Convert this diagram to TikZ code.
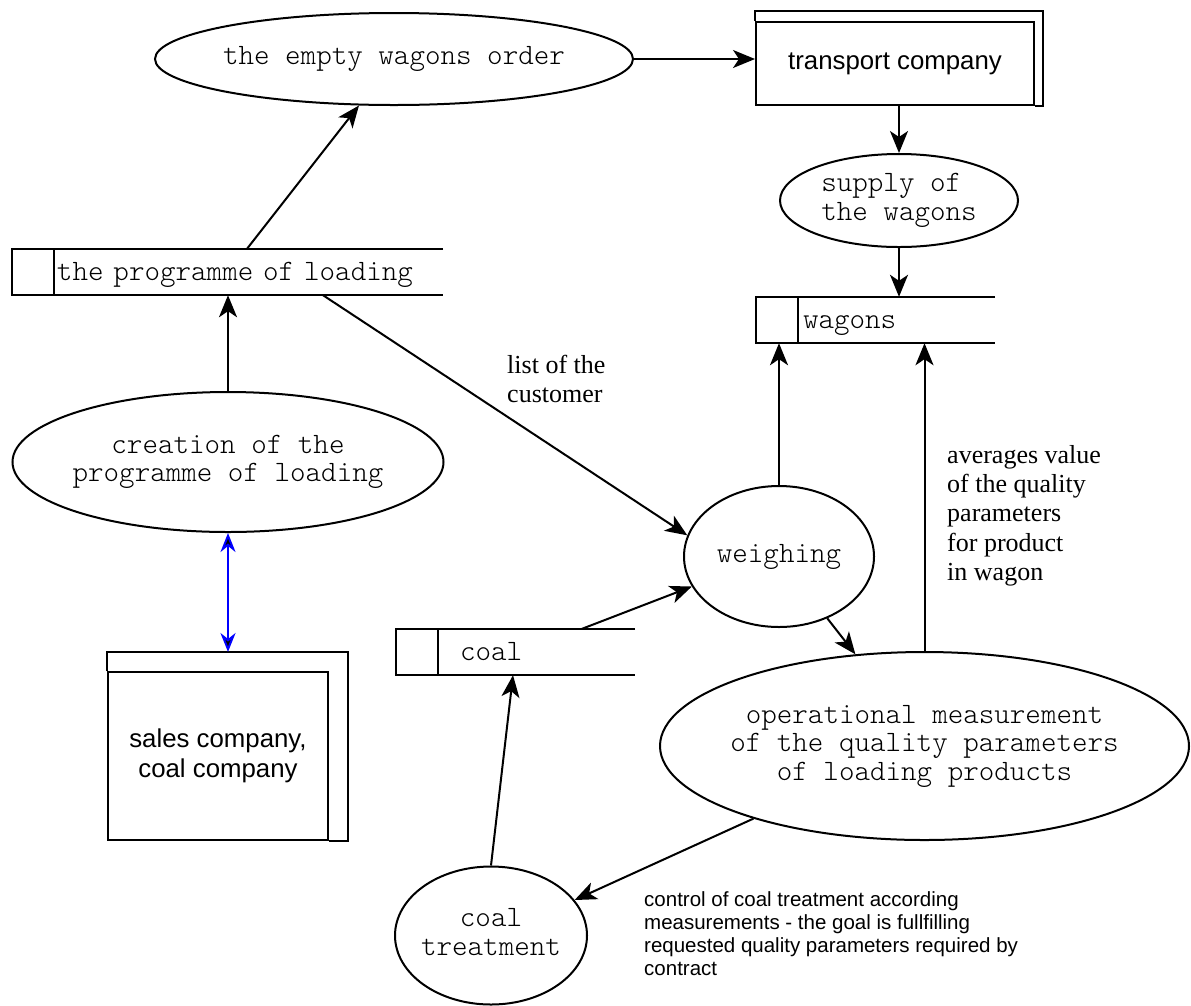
\documentclass[tikz,border=0pt]{standalone}
\usepackage{fontspec}
\setmainfont{Liberation Serif}
\newfontfamily\monof{Latin Modern Mono Light}
\newfontfamily\sansf{Liberation Sans}
\usetikzlibrary{shapes.geometric,arrows.meta}
\newcommand\ztext[1]{\makebox[0pt]{\begin{tabular}{@{}c@{}}#1\end{tabular}}}
\newcommand\zleft[1]{\makebox[0pt]{\begin{tabular}{@{}l@{}}#1\end{tabular}}}
\tikzset{
  proc/.style={ellipse, draw, line width=2pt, inner sep=0pt, font=\monof\fontsize{29.6}{28.5}\selectfont},
  ent/.style={rectangle, draw, line width=2pt, inner sep=0pt, align=center, font=\sansf\fontsize{25.8}{30}\selectfont},
  store/.style={rectangle, inner sep=0pt, minimum height=46pt, text height=16pt, text depth=0pt, align=left, font=\monof\fontsize{29.6}{28.5}\selectfont},
  storeline/.style={line width=2pt},
  tipA/.style={-{Stealth[length=22pt,width=18pt,inset=6pt]}},
  flow/.style={line width=2pt, tipA},
  lbl/.style={inner sep=0pt, anchor=west, align=left, font=\fontsize{26}{29.3}\selectfont},
  note/.style={inner sep=0pt, anchor=west, align=left, font=\sansf\fontsize{20.5}{23}\selectfont},
}
\begin{document}
\begin{tikzpicture}[x=1pt,y=-1pt]
\path[use as bounding box, fill=white] (0,0) rectangle (1191,1005);

% processes
\node[proc, minimum width=478pt, minimum height=92pt] (empty) at (394,59) {\ztext{the empty wagons order}};
\node[proc, minimum width=238pt, minimum height=93pt] (supply) at (899,200.5) {\zleft{supply of\\the wagons}};
\node[proc, minimum width=431pt, minimum height=140pt] (creation) at (228,462) {\ztext{creation of the\\programme of loading}};
\node[proc, minimum width=190pt, minimum height=141pt] (weighing) at (779,556.5) {\ztext{weighing}};
\node[proc, minimum width=529pt, minimum height=188pt] (operational) at (924.5,746) {\ztext{operational measurement\\of the quality parameters\\of loading products}};
\node[proc, minimum width=192pt, minimum height=138pt] (coaltreat) at (491,935.5) {\ztext{coal\\treatment}};

% external entities
\node[ent, minimum width=278pt, minimum height=83pt] (transport) at (895,63.5) {transport company};
\draw[line width=2pt] (transport.north west) -- ([yshift=10pt]transport.north west) -| ([xshift=8pt]transport.south east) -- (transport.south east);
\node[ent, minimum width=220pt, minimum height=168pt] (sales) at (218,756) {sales company,\\coal company};
\draw[line width=2pt] (sales.north west) -- ([yshift=19pt]sales.north west) -| ([xshift=19pt]sales.south east) -- (sales.south east);
\coordinate (salestop) at ([yshift=19pt]sales.north);

% data stores
\node[store, text width=431pt] (prog) at (227.5,272) {\hspace*{45pt}the programme of loading};
\draw[storeline] (prog.north east) -- (prog.north west) -- (prog.south west) -- (prog.south east);
\draw[storeline] ([xshift=42pt]prog.north west) -- ([xshift=42pt]prog.south west);

\node[store, text width=239pt] (wagons) at (875.5,320) {\hspace*{47pt}wagons};
\draw[storeline] (wagons.north east) -- (wagons.north west) -- (wagons.south west) -- (wagons.south east);
\draw[storeline] ([xshift=42pt]wagons.north west) -- ([xshift=42pt]wagons.south west);

\node[store, text width=239pt] (coal) at (515.5,652) {\hspace*{64pt}coal};
\draw[storeline] (coal.north east) -- (coal.north west) -- (coal.south west) -- (coal.south east);
\draw[storeline] ([xshift=42pt]coal.north west) -- ([xshift=42pt]coal.south west);

% flows
\draw[flow] ([xshift=19.5pt]prog.north) -- (empty.-127.5);
\draw[flow] (empty.east) -- (empty.east -| transport.west);
\draw[flow] (supply.north |- transport.south) -- (supply.north);
\draw[flow] (supply.south) -- (supply.south |- wagons.north);
\draw[flow] (creation.north) -- (creation.north |- prog.south);
\draw[blue, line width=2pt, {Stealth[length=19pt,width=15pt,inset=6pt,fill=black]}-{Stealth[length=19pt,width=15pt,inset=6pt,fill=black]}] (creation.south) -- (creation.south |- salestop);
\draw[flow] ([xshift=95.5pt]prog.south) -- (weighing.167);
\draw[flow] (weighing.north) -- (weighing.north |- wagons.south);
\draw[flow] ([xshift=66.5pt]coal.north) -- (weighing.199.5);
\draw[flow] (weighing.-52) -- (operational.127.9);
\draw[flow] (operational.north) -- (operational.north |- wagons.south);
\draw[flow] (operational.203.6) -- (coaltreat.23.8);
\draw[flow] (coaltreat.north) -- ([xshift=-2.5pt]coal.south);

% labels
\node[lbl] (lblList) at (507,379) {list of the\\customer};
\node[lbl] (lblAvg) at (947,515.5) {averages value\\of the quality\\parameters\\for product\\in wagon};
\node[note] (lblCtrl) at (644,934) {control of coal treatment according\\measurements - the goal is fullfilling\\requested quality parameters required by\\contract};
\end{tikzpicture}
\end{document}
